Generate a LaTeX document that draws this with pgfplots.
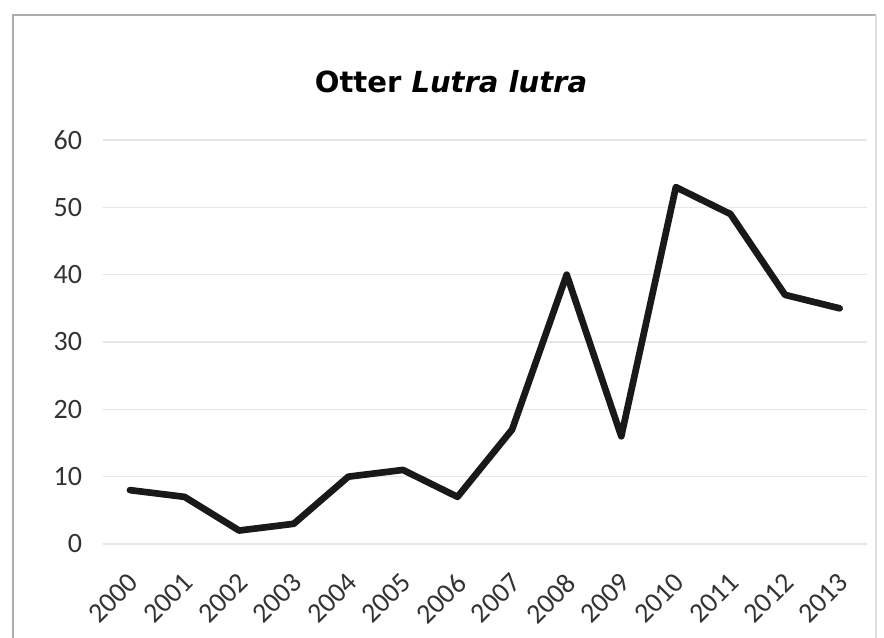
\documentclass[border=0pt]{standalone}
\usepackage{pgfplots}
\pgfplotsset{compat=1.18}
\usepackage{fontspec}
\setmainfont{Carlito}
\newfontfamily\titlefont{DejaVu Sans}
\definecolor{gridc}{HTML}{E6E6E6}
\begin{document}
\begin{tikzpicture}
\begin{scope}[x=0.75pt,y=0.75pt]
\path[use as bounding box, fill=white] (0,0) rectangle (884,638);
\draw[gray!65, line width=1.4pt] (13,0) -- (13,623) -- (876,623);
\draw[gray!25, line width=1.2pt] (876,623) -- (876,0);
\node[font=\titlefont\fontsize{21.8}{24}\selectfont\bfseries] at (451,556) {Otter \textit{Lutra lutra}};
\end{scope}
\begin{axis}[
  at={(77.0pt,70.5pt)}, anchor=south west,
  scale only axis, width=573.2pt, height=303pt,
  xmin=-0.5, xmax=13.5, ymin=0, ymax=60,
  axis line style={draw=none},
  ytick={0,10,20,30,40,50,60},
  xtick={0,...,13},
  xticklabels={2000,2001,2002,2003,2004,2005,2006,2007,2008,2009,2010,2011,2012,2013},
  major tick length=0pt,
  ymajorgrids, grid style={gridc, line width=1.2pt},
  tick label style={font=\fontsize{21}{24}\selectfont, text=black!80},
  xticklabel style={rotate=45, anchor=north east, inner sep=1pt, xshift=-15pt, yshift=-12pt},
  yticklabel style={xshift=-12pt},
  /pgf/number format/assume math mode=true,
]
\addplot[black!90, line width=5pt, line join=round, line cap=round] coordinates {
(0,8) (1,7) (2,2) (3,3) (4,10) (5,11) (6,7) (7,17) (8,40) (9,16) (10,53) (11,49) (12,37) (13,35)
};
\end{axis}
\end{tikzpicture}
\end{document}
